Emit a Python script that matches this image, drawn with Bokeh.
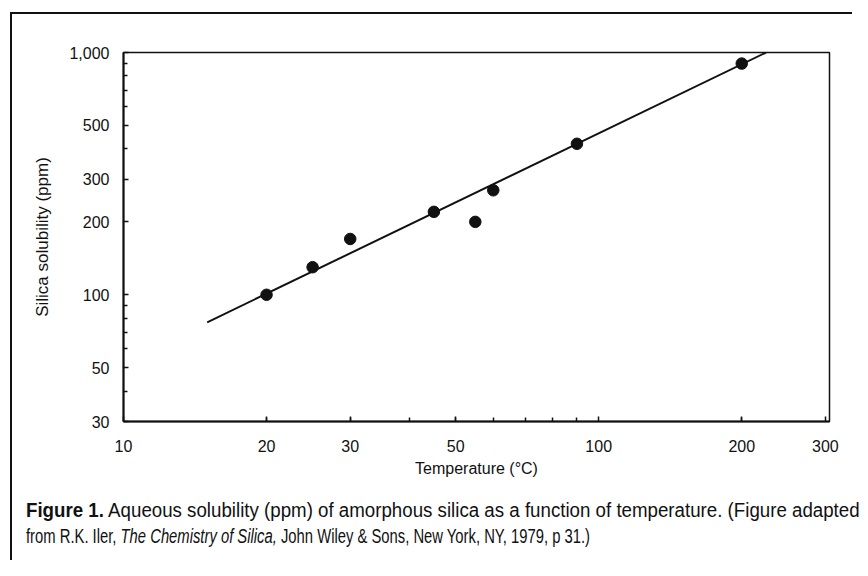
from bokeh.plotting import figure
from bokeh.models import Range1d, FixedTicker, NumeralTickFormatter, Div, Spacer
from bokeh.layouts import column, row
from bokeh.embed import file_html
from bokeh.resources import INLINE

# ---- data ----
temp_c = [20, 25, 30, 45, 55, 60, 90, 200]
solubility_ppm = [100, 130, 170, 220, 200, 270, 420, 900]
fit_temp = [15, 225]
fit_solubility = [77, 1000]

x_ticks = [10, 20, 30, 50, 100, 200, 300]
x_minor_ticks = [20, 30, 40, 50, 60, 70, 80, 90, 200]
y_ticks = [30, 50, 100, 200, 300, 500, 1000]
y_minor_ticks = [40, 60, 70, 80, 90, 400, 600, 700, 800, 900]

x_title = "Temperature (°C)"
y_title = "Silica solubility (ppm)"
caption_bold = "Figure 1."
caption_1 = "Aqueous solubility (ppm) of amorphous silica as a function of temperature. (Figure adapted"
caption_2a = "from R.K. Iler,"
caption_2b = "The Chemistry of Silica,"
caption_2c = "John Wiley &amp; Sons, New York, NY, 1979, p 31.)"

FONT = "Liberation Sans"
INK = "#111111"

p = figure(width=840, height=466, x_axis_type="log", y_axis_type="log",
           x_range=Range1d(10, 306), y_range=Range1d(30, 1000),
           output_backend="svg", toolbar_location=None,
           min_border_left=111, min_border_right=23,
           min_border_top=38, min_border_bottom=59)

p.xgrid.visible = False
p.ygrid.visible = False
p.outline_line_color = INK
p.outline_line_width = 1.5
p.background_fill_color = "white"
p.border_fill_color = "white"

p.line(fit_temp, fit_solubility, line_color=INK, line_width=2)
p.scatter(temp_c, solubility_ppm, size=11.5, fill_color=INK, line_color=INK)

for ax, ticks, minor in ((p.xaxis, x_ticks, x_minor_ticks), (p.yaxis, y_ticks, y_minor_ticks)):
    ax.ticker = FixedTicker(ticks=ticks, minor_ticks=minor)
    ax.formatter = NumeralTickFormatter(format="0,0")
    ax.axis_line_color = INK
    ax.axis_line_width = 2
    ax.major_tick_in = 5
    ax.major_tick_out = 0
    ax.minor_tick_in = 4
    ax.minor_tick_out = 0
    ax.major_tick_line_color = INK
    ax.minor_tick_line_color = INK
    ax.major_tick_line_width = 1.5
    ax.minor_tick_line_width = 1.5
    ax.major_label_text_font = FONT
    ax.major_label_text_font_size = "16px"
    ax.major_label_text_color = INK
    ax.axis_label_text_font = FONT
    ax.axis_label_text_font_style = "normal"
    ax.axis_label_text_color = INK

p.xaxis.axis_label = x_title
p.yaxis.axis_label = y_title
p.xaxis.axis_label_text_font_size = "16px"
p.yaxis.axis_label_text_font_size = "17px"
p.xaxis.major_label_standoff = 18
p.xaxis.axis_label_standoff = 5
p.yaxis.major_label_standoff = 14
p.yaxis.axis_label_standoff = 14

line_style = ("font-family:'Liberation Sans'; font-size:20px; line-height:26px; color:#111; "
              "white-space:nowrap; transform-origin:0 0; ")
caption_html = (
    '<div style="padding:17px 0 0 14px;">'
    f'<div style="{line_style} transform:scaleX(0.935);">'
    f'<b>{caption_bold}</b> {caption_1}</div>'
    f'<div style="{line_style} transform:scaleX(0.74);">'
    f'{caption_2a} <i>{caption_2b}</i> {caption_2c}</div>'
    '</div>'
)
caption = Div(text=caption_html, width=840, height=80,
              styles={"margin": "0", "padding": "0", "overflow": "visible"})

# outer frame lines (open at right and bottom like the cropped original)
top_rule = Div(text="", width=842, height=2,
               styles={"background-color": INK, "margin": "0", "padding": "0"})
left_rule = Div(text="", width=2, height=546,
                styles={"background-color": INK, "margin": "0", "padding": "0"})

root = column(
    Spacer(height=12, width=852),
    row(Spacer(width=10, height=548),
        column(top_rule, row(left_rule, column(p, caption)))),
)

open("out.html", "w").write(file_html(root, INLINE))
